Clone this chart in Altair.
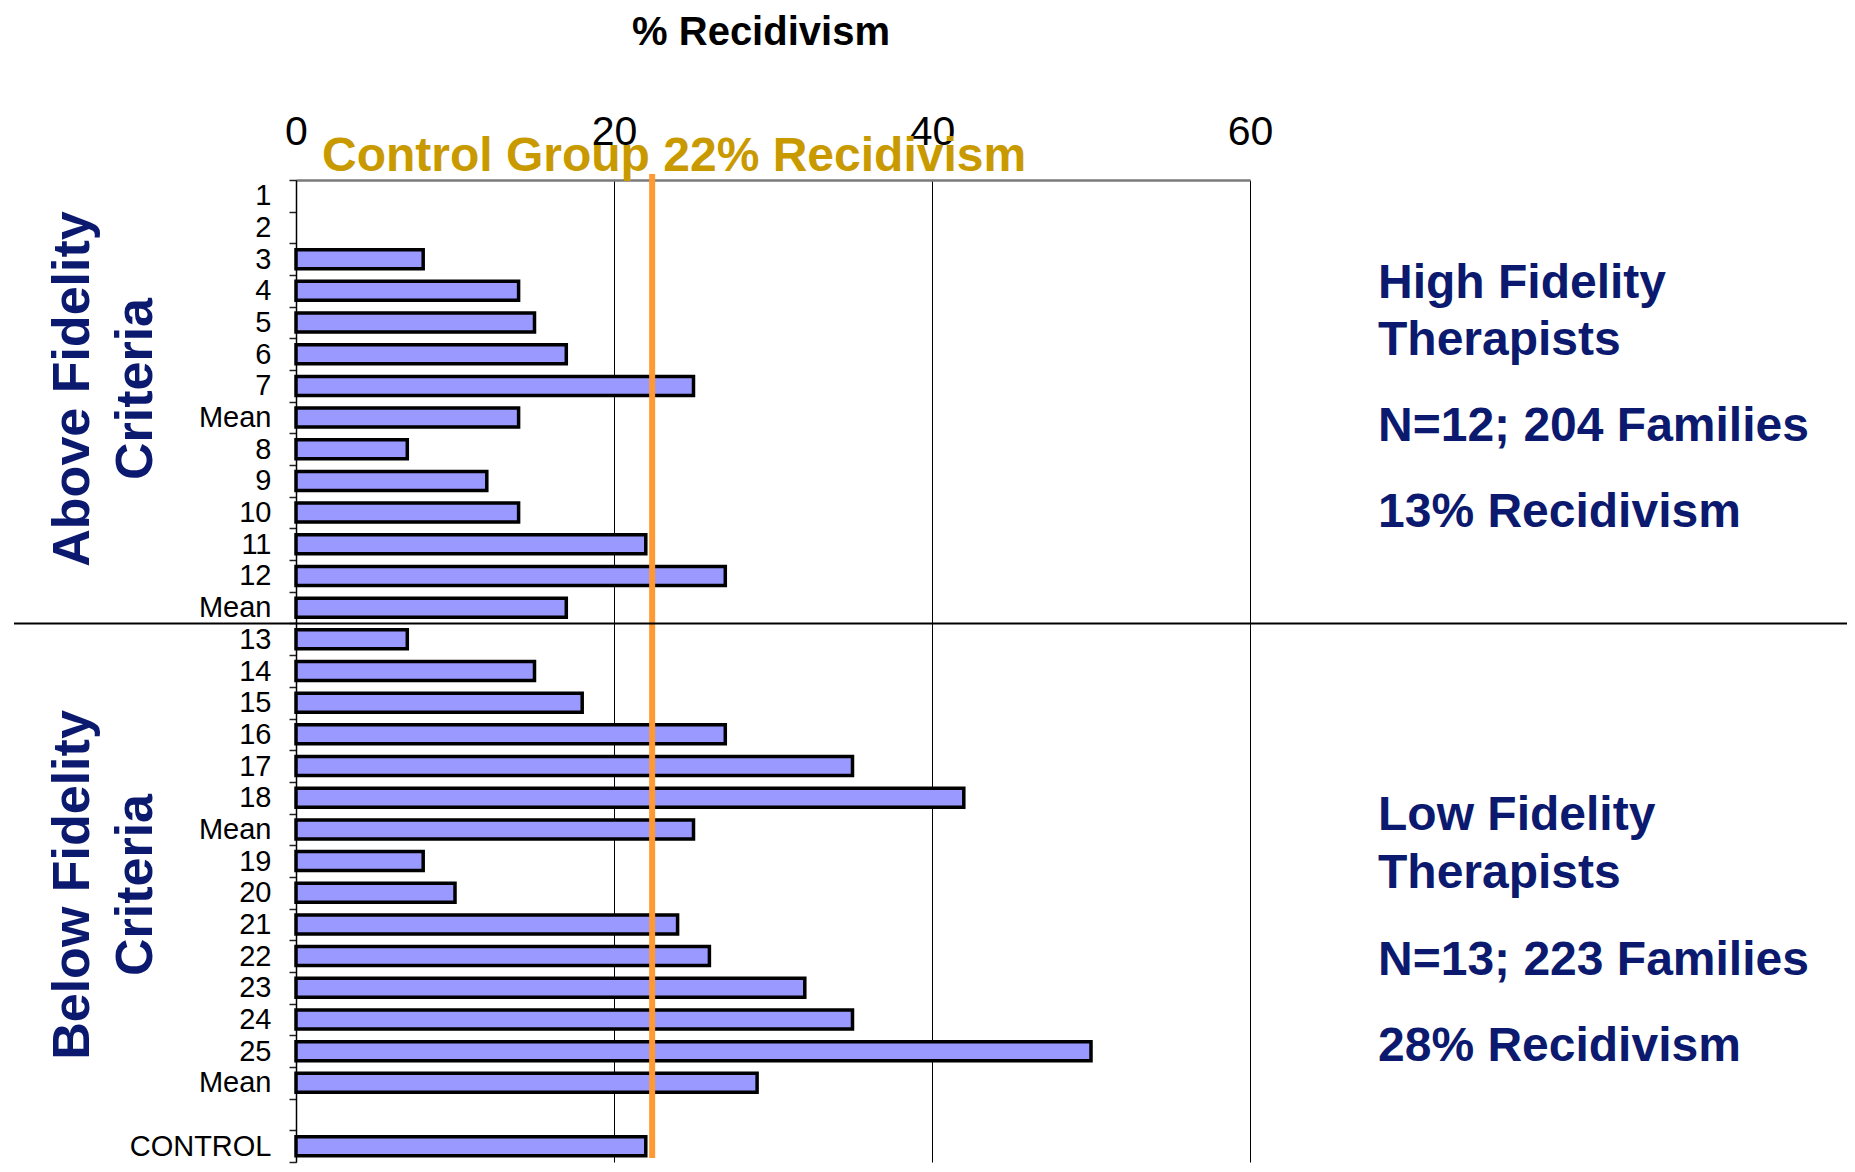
import altair as alt
import pandas as pd

# ---------------- data ----------------
labels = ["1", "2", "3", "4", "5", "6", "7", "Mean", "8", "9", "10", "11", "12", "Mean",
          "13", "14", "15", "16", "17", "18", "Mean", "19", "20", "21", "22", "23", "24", "25", "Mean",
          "", "CONTROL"]
values = [None, None, 8, 14, 15, 17, 25, 14, 7, 12, 14, 22, 27, 17,
          7, 15, 18, 27, 35, 42, 25, 8, 10, 24, 26, 32, 35, 50, 29,
          None, 22]
x_ticks = [0, 20, 40, 60]
control_line = [22.4]
divider_row = "13"

# unique ids keep the row order (labels like "Mean" repeat)
ids = [f"{i:02d}|{lab}" for i, lab in enumerate(labels)]
df = pd.DataFrame({"id": ids, "label": labels, "value": values})
bars_df = df.dropna(subset=["value"])

W, H = 954, 982
NAVY = "#0b1a6e"
GOLD = "#c99a00"
ORANGE = "#ff9933"
BAR = "#9999ff"

yscale = alt.Scale(domain=ids, paddingInner=0, paddingOuter=0)
xscale = alt.Scale(domain=[0, 60], nice=False, zero=True)

y_axis = alt.Axis(orient="left",
                  labelExpr="isString(datum.value) ? substring(datum.value, 3) : ''",
                  title=None,
                  tickBand="extent", tickSize=7, tickColor="#222", tickWidth=1.5,
                  domainColor="black", domainWidth=1.5,
                  labelFont="Liberation Sans", labelFontSize=29,
                  labelColor="black", labelPadding=18, grid=False)
x_axis = alt.Axis(orient="top", values=x_ticks, grid=True, gridColor="black", title=None,
                  gridWidth=1, gridOpacity=1, ticks=False, tickSize=0,
                  domainColor="#7a7a7a", domainWidth=2.5,
                  labelFont="Liberation Sans", labelFontSize=41,
                  labelColor="black", labelPadding=27, labelFlush=False)

bars = alt.Chart(bars_df).mark_bar(
    height=alt.RelativeBandSize(0.6), fill=BAR, stroke="black", strokeWidth=3.5
).encode(
    y=alt.Y("id:N", scale=yscale, title=None, axis=y_axis),
    x=alt.X("value:Q", scale=xscale, title=None, axis=x_axis),
)

orange = alt.Chart(pd.DataFrame({"rate": control_line})).mark_rule(
    color=ORANGE, strokeWidth=6
).encode(
    x=alt.X("rate:Q", scale=xscale, title=None, axis=x_axis),
    y=alt.value(-6), y2=alt.value(H - 4),
)

divider = alt.Chart(pd.DataFrame({"id": [ids[labels.index(divider_row)]]})).mark_rule(
    color="black", strokeWidth=1.8
).encode(
    y=alt.Y("id:N", scale=yscale, bandPosition=0, title=None, axis=y_axis),
    x=alt.value(-282), x2=alt.value(1560),
)


def txt(s, x, y, size, color, bold=True, align="left", angle=0, font="Liberation Sans"):
    return alt.Chart(pd.DataFrame({"t": [s]})).mark_text(
        align=align, baseline="middle", fontSize=size,
        fontWeight="bold" if bold else "normal", color=color, font=font, angle=angle
    ).encode(x=alt.value(x), y=alt.value(y), text="t:N")


texts = [
    txt("% Recidivism", 465, -147, 40, "black", align="center"),
    txt("Control Group 22% Recidivism", 26, -23, 48, GOLD),
    txt("Above Fidelity", -223, 209, 52, NAVY, align="center", angle=270),
    txt("Criteria", -160, 209, 52, NAVY, align="center", angle=270),
    txt("Below Fidelity", -223, 705, 52, NAVY, align="center", angle=270),
    txt("Criteria", -160, 705, 52, NAVY, align="center", angle=270),
    txt("High Fidelity", 1082, 104, 48, NAVY),
    txt("Therapists", 1082, 161, 48, NAVY),
    txt("N=12; 204 Families", 1082, 247, 48, NAVY),
    txt("13% Recidivism", 1082, 333, 48, NAVY),
    txt("Low Fidelity", 1082, 636, 48, NAVY),
    txt("Therapists", 1082, 694, 48, NAVY),
    txt("N=13; 223 Families", 1082, 781, 48, NAVY),
    txt("28% Recidivism", 1082, 867, 48, NAVY),
]

chart = alt.layer(bars, orange, divider, *texts).properties(
    width=W, height=H,
    autosize=alt.AutoSizeParams(type="none"),
    padding={"left": 288, "top": 172, "right": 597, "bottom": 2},
).configure_view(stroke=None)

chart.save("out.html", embed_options={"renderer": "svg", "actions": False})
